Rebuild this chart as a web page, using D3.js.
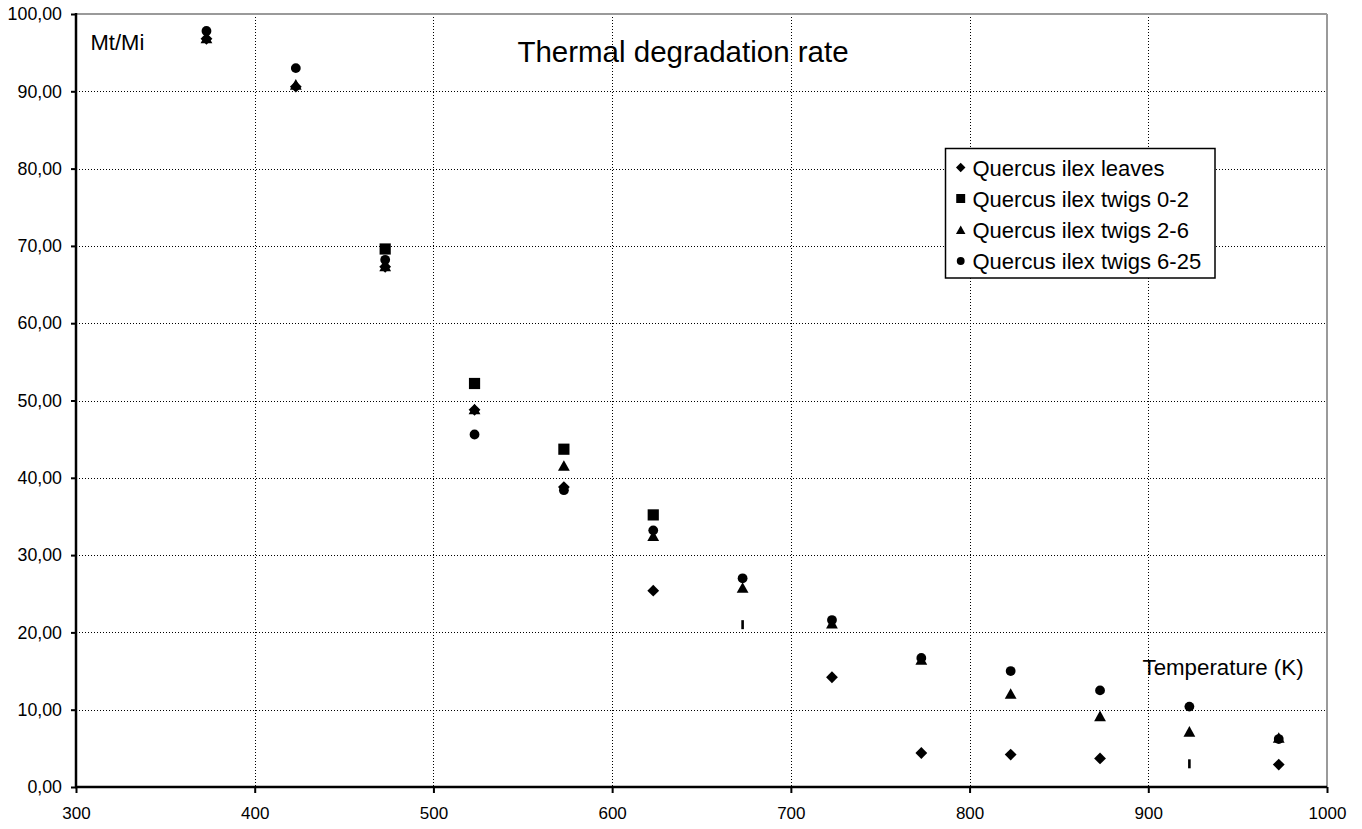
<!DOCTYPE html>
<html>
<head>
<meta charset="utf-8">
<script src="https://cdn.jsdelivr.net/npm/d3@7"></script>
<style>
  html, body { margin: 0; padding: 0; background: #fff; }
  svg { display: block; font-family: Arial, "Liberation Sans", sans-serif; }
</style>
</head>
<body>
<svg id="chart" width="1362" height="829"></svg>
<script>
// ---- data ----
const temperatures = [373, 423, 473, 523, 573, 623, 673, 723, 773, 823, 873, 923, 973];
const seriesNames = ["Quercus ilex leaves", "Quercus ilex twigs 0-2", "Quercus ilex twigs 2-6", "Quercus ilex twigs 6-25"];
const leaves   = [96.8, 90.6, 67.3, 48.8, 38.8, 25.4, null, 14.2, 4.4, 4.2, 3.7, null, 2.9];
const twigs0_2 = [null, null, 69.6, 52.2, 43.7, 35.2, null, null, null, null, null, null, null];
const twigs2_6 = [96.9, 90.9, 67.4, 48.9, 41.6, 32.5, 25.8, 21.2, 16.5, 12.1, 9.2, 7.2, 6.4];
const twigs6_25 = [97.8, 93.0, 68.2, 45.6, 38.4, 33.2, 27.0, 21.6, 16.7, 15.0, 12.5, 10.4, 6.2];
// stray bar-shaped marks of the leaves series
const leavesBarT = [673, 923];
const leavesBarV = [21.0, 3.0];
const xTicks = [300, 400, 500, 600, 700, 800, 900, 1000];
const yTicks = [0, 10, 20, 30, 40, 50, 60, 70, 80, 90, 100];

// ---- layout ----
const L = 76, R = 1327, T = 14, B = 787;
const svg = d3.select("#chart");
const x = d3.scaleLinear().domain([300, 1000]).range([L, R]);
const y = d3.scaleLinear().domain([0, 100]).range([B, T]);
const fmt = v => d3.format(".2f")(v).replace(".", ",");

// gridlines
svg.append("g").selectAll("line").data(yTicks.filter(v => v > 0 && v < 100)).join("line")
  .attr("x1", L).attr("x2", R).attr("y1", d => Math.round(y(d)) + 0.5).attr("y2", d => Math.round(y(d)) + 0.5)
  .attr("stroke", "#000").attr("stroke-width", 1).attr("stroke-dasharray", "1,2");
svg.append("g").selectAll("line").data(xTicks.filter(v => v > 300 && v < 1000)).join("line")
  .attr("y1", T).attr("y2", B).attr("x1", d => Math.round(x(d)) + 0.5).attr("x2", d => Math.round(x(d)) + 0.5)
  .attr("stroke", "#000").attr("stroke-width", 1).attr("stroke-dasharray", "1,2");

// frame (top and right gray)
svg.append("line").attr("x1", L).attr("x2", R).attr("y1", T).attr("y2", T).attr("stroke", "#9a9a9a").attr("stroke-width", 2);
svg.append("line").attr("x1", R).attr("x2", R).attr("y1", T).attr("y2", B).attr("stroke", "#9a9a9a").attr("stroke-width", 2);

// axes
const yAxis = svg.append("g").attr("transform", `translate(${L},0)`)
  .call(d3.axisLeft(y).tickValues(yTicks).tickFormat(fmt).tickSizeInner(5).tickSizeOuter(0).tickPadding(9));
const xAxis = svg.append("g").attr("transform", `translate(0,${B})`)
  .call(d3.axisBottom(x).tickValues(xTicks).tickFormat(d3.format("d")).tickSizeInner(6).tickSizeOuter(0).tickPadding(9));
[yAxis, xAxis].forEach(g => {
  g.select(".domain").attr("stroke", "#000").attr("stroke-width", 2.5);
  g.selectAll(".tick line").attr("stroke", "#000").attr("stroke-width", 2);
  g.selectAll(".tick text").attr("fill", "#000")
    .attr("font-family", "Arial, 'Liberation Sans', sans-serif");
});
yAxis.selectAll(".tick text").attr("font-size", "17.8px");
xAxis.selectAll(".tick text").attr("font-size", "17px").attr("dy", "1em");
yAxis.select(".domain").attr("d", `M0,${B}V${T - 1}`);
xAxis.select(".domain").attr("d", `M${L - 1},0H${R}`);

// marker shapes
function markerPath(type, s) {
  const p = d3.path();
  if (type === "diamond") {
    const h = 5.9 * s;
    p.moveTo(0, -h); p.lineTo(h, 0); p.lineTo(0, h); p.lineTo(-h, 0); p.closePath();
  } else if (type === "square") {
    const h = 5.6 * s;
    p.rect(-h, -h, 2 * h, 2 * h);
  } else if (type === "triangle") {
    const w = 5.9 * s, hh = 5.3 * s;
    p.moveTo(0, -hh); p.lineTo(w, hh); p.lineTo(-w, hh); p.closePath();
  } else {
    p.arc(0, 0, 4.9 * s, 0, 2 * Math.PI);
  }
  return p.toString();
}
const seriesData = [leaves, twigs0_2, twigs2_6, twigs6_25];
const shapes = ["diamond", "square", "triangle", "circle"];

seriesData.forEach((vals, i) => {
  const pts = temperatures.map((t, j) => ({ t, v: vals[j] })).filter(d => d.v != null);
  svg.append("g").selectAll("path").data(pts).join("path")
    .attr("d", markerPath(shapes[i], 1))
    .attr("transform", d => `translate(${x(d.t)},${y(d.v)})`)
    .attr("fill", "#000");
  if (i === 0) {
    svg.append("g").selectAll("rect").data(leavesBarT.map((t, j) => ({ t, v: leavesBarV[j] }))).join("rect")
      .attr("x", d => x(d.t) - 1.3).attr("y", d => y(d.v) - 4.5)
      .attr("width", 2.6).attr("height", 9).attr("fill", "#000");
  }
});

// texts
svg.append("text").attr("x", 683).attr("y", 61.5).attr("text-anchor", "middle")
  .attr("font-size", "29.5px").attr("fill", "#000").text("Thermal degradation rate");
svg.append("text").attr("x", 90.5).attr("y", 50).attr("font-size", "22px").attr("fill", "#000").text("Mt/Mi");
svg.append("text").attr("x", 1142.5).attr("y", 675).attr("font-size", "22.3px").attr("fill", "#000").text("Temperature (K)");

// legend
const lg = svg.append("g");
lg.append("rect").attr("x", 945.5).attr("y", 148.5).attr("width", 269.5).attr("height", 129.5)
  .attr("fill", "#fff").attr("stroke", "#000").attr("stroke-width", 1.5);
const rowY = [175.5, 206.5, 237.8, 269];
seriesNames.forEach((name, i) => {
  lg.append("path").attr("d", markerPath(shapes[i], 0.8))
    .attr("transform", `translate(960.7,${rowY[i] - 8})`).attr("fill", "#000");
  lg.append("text").attr("x", 972.5).attr("y", rowY[i]).attr("font-size", "22px").attr("fill", "#000").text(name);
});
</script>
</body>
</html>
